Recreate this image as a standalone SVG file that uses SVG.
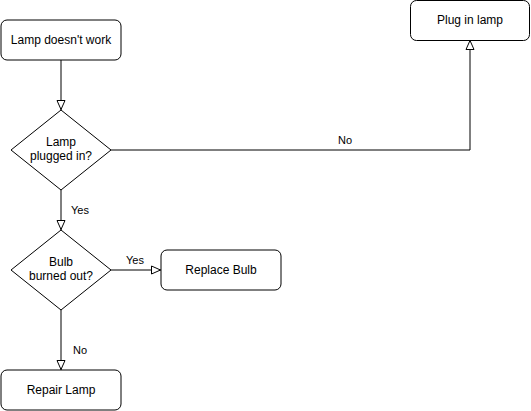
<svg xmlns="http://www.w3.org/2000/svg" width="531" height="411" viewBox="0 0 531 411">
<style>
.n{fill:#fff;stroke:#000;stroke-width:1}
.t{font-family:"Liberation Sans",Arial,sans-serif;font-size:12px;fill:#000;text-anchor:middle}
.l{font-family:"Liberation Sans",Arial,sans-serif;font-size:11px;fill:#000;text-anchor:middle}
.e{fill:none;stroke:#000;stroke-width:1}
</style>
<defs>
<marker id="a" viewBox="0 0 10 10" refX="10" refY="5" markerWidth="10" markerHeight="10" markerUnits="userSpaceOnUse" orient="auto">
<path d="M0.5,1 L9.5,5 L0.5,9 Z" fill="#fff" stroke="#000" stroke-width="1"/>
</marker>
</defs>
<rect width="531" height="411" fill="#fff"/>
<g id="edges">
<path class="e" d="M61,60 V110" marker-end="url(#a)"/>
<path class="e" d="M111,150 H470 V40" marker-end="url(#a)"/>
<text class="l" x="345" y="144">No</text>
<path class="e" d="M61,190 V230" marker-end="url(#a)"/>
<text class="l" x="80" y="214">Yes</text>
<path class="e" d="M111,270 H161" marker-end="url(#a)"/>
<text class="l" x="135" y="264">Yes</text>
<path class="e" d="M61,310 V370" marker-end="url(#a)"/>
<text class="l" x="80" y="354">No</text>
</g>
<g id="lamp-doesnt-work">
<rect class="n" x="1" y="20" width="120" height="40" rx="6"/>
<text class="t" x="61" y="44">Lamp doesn't work</text>
</g>
<g id="plugged-in">
<path class="n" d="M61,110 L111,150 L61,190 L11,150 Z"/>
<text class="t" x="61" y="146">Lamp</text>
<text class="t" x="61" y="160">plugged in?</text>
</g>
<g id="plug-in-lamp">
<rect class="n" x="410.5" y="0.5" width="119" height="40" rx="6"/>
<text class="t" x="470" y="24">Plug in lamp</text>
</g>
<g id="bulb-burned">
<path class="n" d="M61,230 L111,270 L61,310 L11,270 Z"/>
<text class="t" x="61" y="266">Bulb</text>
<text class="t" x="61" y="280">burned out?</text>
</g>
<g id="replace-bulb">
<rect class="n" x="161" y="250" width="120" height="40" rx="6"/>
<text class="t" x="221" y="274">Replace Bulb</text>
</g>
<g id="repair-lamp">
<rect class="n" x="1" y="370" width="120" height="40" rx="6"/>
<text class="t" x="61" y="394">Repair Lamp</text>
</g>
</svg>
